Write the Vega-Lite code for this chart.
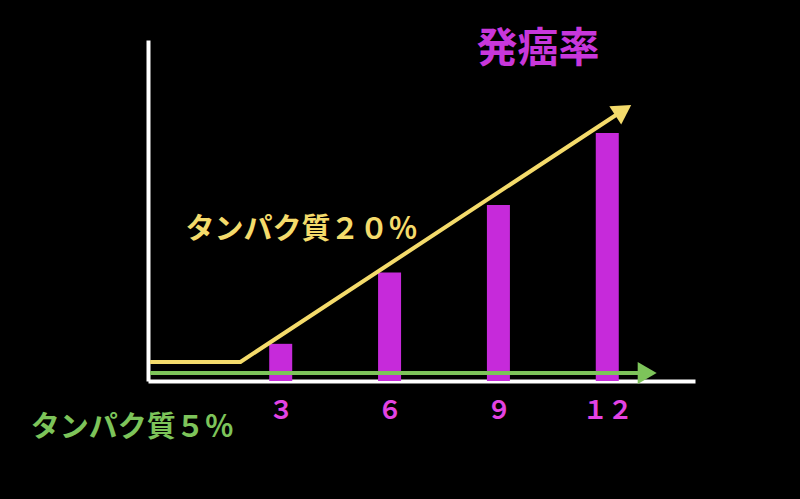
{
  "$schema": "https://vega.github.io/schema/vega-lite/v6.json",
  "width": 547,
  "height": 341,
  "autosize": {"type": "none"},
  "padding": {"left": 148, "top": 40, "right": 105, "bottom": 118},
  "background": "black",
  "datasets": {
    "bars": [
      {"month": 3, "rate": 10.9},
      {"month": 6, "rate": 31.8},
      {"month": 9, "rate": 51.6},
      {"month": 12, "rate": 72.7}
    ],
    "lines": [
      {"series": "タンパク質２０％", "step": 1, "x": -0.6, "y": 5.6},
      {"series": "タンパク質２０％", "step": 2, "x": 1.89, "y": 5.6},
      {"series": "タンパク質２０％", "step": 3, "x": 12.44, "y": 79.4},
      {"series": "タンパク質５％", "step": 1, "x": -0.6, "y": 2.35},
      {"series": "タンパク質５％", "step": 2, "x": 13.1, "y": 2.35}
    ],
    "heads": [
      {"series": "タンパク質２０％", "x": 12.44, "y": 79.4},
      {"series": "タンパク質５％", "x": 13.1, "y": 2.35}
    ],
    "labels": [
      {"series": "タンパク質２０％", "x": 3.57, "y": 44.4},
      {"series": "タンパク質５％", "x": -1.09, "y": -13.8}
    ],
    "title": [
      {"text": "発癌率", "x": 10.09, "y": 97.0}
    ]
  },
  "layer": [
    {
      "data": {"name": "bars"},
      "mark": {"type": "bar", "width": 23, "color": "#C62ADA"},
      "encoding": {
        "x": {
          "field": "month",
          "type": "quantitative",
          "scale": {"domain": [-0.52, 14.28], "nice": false, "zero": false},
          "axis": {
            "values": [3, 6, 9, 12],
            "title": null,
            "grid": false,
            "ticks": false,
            "domainColor": "white",
            "domainWidth": 4,
            "labelColor": "#E343E3",
            "labelFont": "Noto Sans CJK JP",
            "labelFontSize": 25,
            "labelFontWeight": "bold",
            "labelPadding": 17,
            "labelExpr": "datum.value == 3 ? '３' : datum.value == 6 ? '６' : datum.value == 9 ? '９' : '１２'"
          }
        },
        "y": {
          "field": "rate",
          "type": "quantitative",
          "scale": {"domain": [0, 100], "nice": false},
          "axis": {
            "title": null,
            "grid": false,
            "ticks": false,
            "labels": false,
            "domainColor": "white",
            "domainWidth": 4
          }
        }
      }
    },
    {
      "data": {"name": "lines"},
      "mark": {"type": "line", "strokeWidth": 4, "strokeCap": "butt"},
      "encoding": {
        "x": {"field": "x", "type": "quantitative"},
        "y": {"field": "y", "type": "quantitative"},
        "order": {"field": "step"},
        "color": {
          "field": "series",
          "type": "nominal",
          "scale": {"domain": ["タンパク質２０％", "タンパク質５％"], "range": ["#F4DB6B", "#7DC45A"]},
          "legend": null
        }
      }
    },
    {
      "data": {"name": "heads"},
      "transform": [{"filter": "datum.series == 'タンパク質２０％'"}],
      "mark": {"type": "point", "shape": "triangle-right", "filled": true, "opacity": 1, "size": 480, "angle": -32.8, "color": "#F4DB6B"},
      "encoding": {
        "x": {"field": "x", "type": "quantitative"},
        "y": {"field": "y", "type": "quantitative"}
      }
    },
    {
      "data": {"name": "heads"},
      "transform": [{"filter": "datum.series == 'タンパク質５％'"}],
      "mark": {"type": "point", "shape": "triangle-right", "filled": true, "opacity": 1, "size": 480, "color": "#7DC45A"},
      "encoding": {
        "x": {"field": "x", "type": "quantitative"},
        "y": {"field": "y", "type": "quantitative"}
      }
    },
    {
      "data": {"name": "labels"},
      "mark": {"type": "text", "font": "Noto Sans CJK JP", "fontSize": 29, "fontWeight": "bold", "baseline": "middle", "align": "center"},
      "encoding": {
        "x": {"field": "x", "type": "quantitative"},
        "y": {"field": "y", "type": "quantitative"},
        "text": {"field": "series"},
        "color": {"field": "series", "type": "nominal", "legend": null}
      }
    },
    {
      "data": {"name": "title"},
      "mark": {"type": "text", "font": "Noto Sans CJK JP", "fontSize": 41, "fontWeight": "bold", "baseline": "middle", "align": "center", "color": "#C837DB"},
      "encoding": {
        "x": {"field": "x", "type": "quantitative"},
        "y": {"field": "y", "type": "quantitative"},
        "text": {"field": "text"}
      }
    }
  ],
  "config": {
    "view": {"stroke": null}
  }
}
